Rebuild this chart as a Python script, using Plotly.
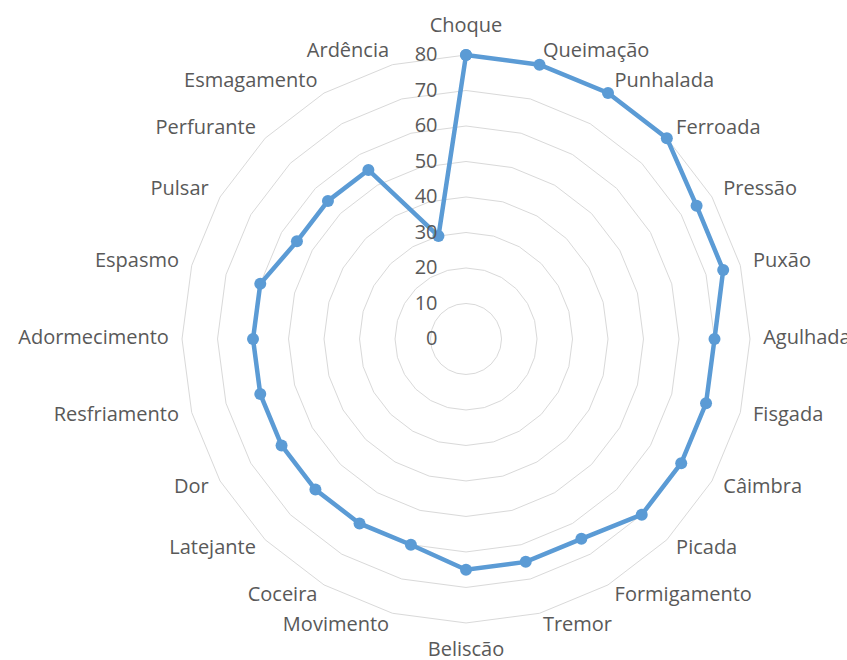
import plotly.graph_objects as go

# Pain descriptors, clockwise from the top
categories = [
    "Choque", "Queimação", "Punhalada", "Ferroada", "Pressão", "Puxão",
    "Agulhada", "Fisgada", "Câimbra", "Picada", "Formigamento", "Tremor",
    "Beliscão", "Movimento", "Coceira", "Latejante", "Dor", "Resfriamento",
    "Adormecimento", "Espasmo", "Pulsar", "Perfurante", "Esmagamento", "Ardência",
]
values = [
    80, 80, 80, 80, 75, 75,
    70, 70, 70, 70, 65, 65,
    65, 60, 60, 60, 60, 60,
    60, 60, 55, 55, 55, 30,
]
radial_ticks = [0, 10, 20, 30, 40, 50, 60, 70, 80]

LINE_BLUE = "#5B9BD5"
TEXT_GREY = "#595959"
GRID_GREY = "#D9D9D9"
FONT = "Open Sans"
FONT_SIZE = 20

# Category labels sit just outside the outer ring: left/right aligned on the
# sides, centred (and a little further out) at the very top and bottom.
n = len(categories)
label_r, label_pos = [], []
for i in range(n):
    if i == 0 or i == n // 2:
        label_r.append(88.0)
        label_pos.append("middle center")
    else:
        label_r.append(83.7)
        label_pos.append("middle right" if i < n // 2 else "middle left")

fig = go.Figure()
fig.add_trace(go.Scatterpolar(
    r=values + values[:1],
    theta=categories + categories[:1],
    mode="lines+markers",
    line=dict(color=LINE_BLUE, width=4.5),
    marker=dict(color=LINE_BLUE, size=12),
    showlegend=False,
    hoverinfo="skip",
))
fig.add_trace(go.Scatterpolar(
    r=label_r,
    theta=categories,
    mode="text",
    text=categories,
    textposition=label_pos,
    textfont=dict(family=FONT, size=FONT_SIZE, color=TEXT_GREY),
    showlegend=False,
    hoverinfo="skip",
))

# The radial range extends past the 80 ring (the frame itself is hidden) so
# the category labels fit inside the plotting area.
fig.update_layout(
    width=847,
    height=660,
    margin=dict(l=0, r=0, t=0, b=0),
    paper_bgcolor="white",
    plot_bgcolor="white",
    font=dict(family=FONT, size=FONT_SIZE, color=TEXT_GREY),
    polar=dict(
        domain=dict(x=[0.1730, 0.9274], y=[0.0023, 0.9705]),
        bgcolor="rgba(0,0,0,0)",
        gridshape="linear",
        angularaxis=dict(
            direction="clockwise",
            rotation=90,
            showgrid=False,
            showline=False,
            showticklabels=False,
            ticks="",
        ),
        radialaxis=dict(
            range=[0, 90],
            tickvals=radial_ticks,
            ticktext=[str(v) for v in radial_ticks],
            angle=90,
            tickangle=90,
            side="counterclockwise",
            showline=False,
            ticks="outside",
            ticklen=21,
            tickcolor="rgba(0,0,0,0)",
            gridcolor=GRID_GREY,
            gridwidth=1,
            tickfont=dict(family=FONT, size=FONT_SIZE, color=TEXT_GREY),
        ),
    ),
)

fig.write_html("out.html")
